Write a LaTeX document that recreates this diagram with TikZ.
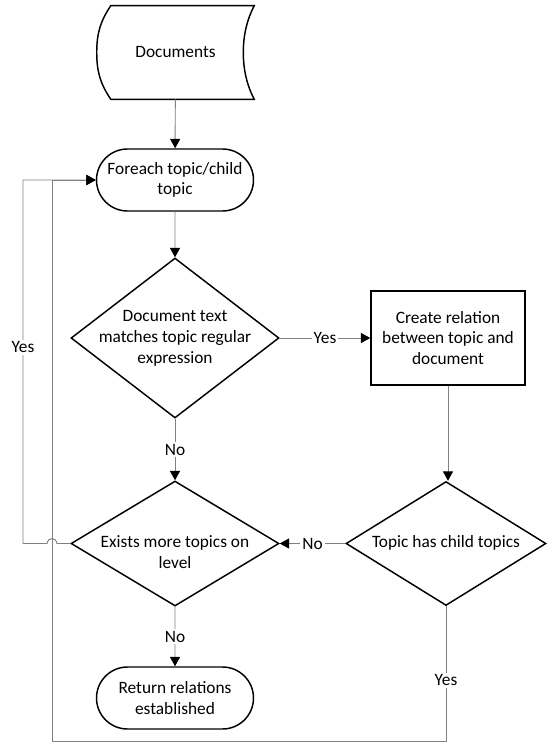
\documentclass[tikz,border=0pt]{standalone}
\usepackage{fontspec}
\setmainfont{Carlito}
\usetikzlibrary{shapes.geometric,shapes.misc,arrows.meta,calc}

\newcommand{\dtext}[2][-6.5pt]{\makebox[0pt]{\raisebox{#1}{\smash{\begin{tabular}{@{}c@{}}#2\end{tabular}}}}}

\tikzset{
    terminal/.style={rounded rectangle, draw, line width=1.1pt, minimum width=117.75pt, minimum height=46.5pt, inner sep=0pt, align=center},
    decision/.style={diamond, draw, line width=1.1pt, inner sep=0pt},
    process/.style={rectangle, draw, line width=1.1pt, minimum width=115.5pt, minimum height=70.5pt, inner sep=0pt, align=center},
    flow/.style={draw=black!50, line width=0.7pt},
    arrowflow/.style={flow, -{Triangle[length=7pt,width=7.5pt,color=black,fill=black]}},
    lbl/.style={fill=white, inner sep=1.5pt}
}

\begin{document}
\begin{tikzpicture}[x=0.75pt, y=-0.75pt, font=\fontsize{13}{15.5}\selectfont]
    \useasboundingbox (0,0) rectangle (546,742);

    % Documents
    \node (docs) at (175.5,52.5) [minimum width=117.75pt, minimum height=69.75pt, inner sep=0pt] {Documents};
    \draw[line width=1.1pt] ($(docs.north west)+(14,0)$) -- (docs.north east)
        .. controls +(-8,15) and +(0,-15) .. ($(docs.east)+(-11,0)$)
        .. controls +(0,15) and +(-8,-15) .. (docs.south east)
        -- ($(docs.south west)+(14,0)$)
        .. controls +(-10,-15) and +(0,20) .. (docs.west)
        .. controls +(0,-20) and +(-10,15) .. ($(docs.north west)+(14,0)$) -- cycle;

    % Shapes
    \node[terminal] (foreach) at (175,180) {Foreach topic/child\\topic};
    \node[decision, minimum width=156pt, minimum height=120pt] (match) at (175,338)
        {\dtext{Document text\\matches topic regular\\expression}};
    \node[process] (relate) at (448,338) {Create relation\\between topic and\\document};
    \node[decision, minimum width=150pt, minimum height=93pt] (child) at (446,543.5)
        {\dtext[-5.5pt]{Topic has child topics}};
    \node[decision, minimum width=156pt, minimum height=93.75pt] (more) at (175,543.5)
        {\dtext[-22pt]{Exists more topics on\\level}};
    \node[terminal] (ret) at (175,698) {Return relations\\established};

    % Loop columns
    \coordinate (outer) at (23,741);
    \coordinate (inner) at (52,741);

    % Connectors
    \draw[arrowflow] (docs) -- (foreach);
    \draw[arrowflow] (foreach) -- (match);
    \draw[arrowflow] (match) -- node[lbl] {Yes} (relate);
    \draw[arrowflow] (relate.south) -- (relate.south |- child.north);
    \draw[arrowflow] (child) -- node[lbl] {No} (more);
    \draw[arrowflow] (match) -- node[lbl] {No} (more);
    \draw[arrowflow] (more) -- node[lbl] {No} (ret);
    \draw[arrowflow] (child.south) -- node[lbl, pos=0.55] {Yes} (child.south |- inner)
        -- (inner) -- (inner |- foreach.west) -- (foreach.west);
    \draw[arrowflow] (more.west) -- ($(inner |- more.west)+(5,0)$)
        arc[start angle=0, end angle=-180, radius=5]
        -- (outer |- more.west) -- node[lbl, pos=0.54] {Yes} (outer |- foreach.west) -- (foreach.west);
\end{tikzpicture}
\end{document}
